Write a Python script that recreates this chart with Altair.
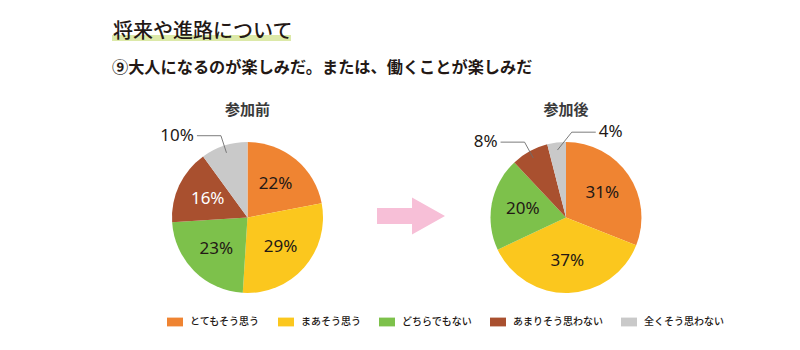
import altair as alt
import pandas as pd

TITLE = "将来や進路について"
SUBTITLE = "⑨大人になるのが楽しみだ。または、働くことが楽しみだ"
CATEGORIES = ["とてもそう思う", "まあそう思う", "どちらでもない", "あまりそう思わない", "全くそう思わない"]
PIE_TITLES = ["参加前", "参加後"]
BEFORE = [22, 29, 23, 16, 10]
AFTER = [31, 37, 20, 8, 4]

# ---- style ----
COLORS = ["#EF8432", "#FBC71E", "#7DC14B", "#A9502F", "#C9C9C9"]
TEXT = "#231815"
FONT_JP = "Noto Sans CJK JP"
FONT_NUM = "Noto Sans"
OUTSIDE = {
    "参加前": {"全くそう思わない": "left"},
    "参加後": {"あまりそう思わない": "left", "全くそう思わない": "right"},
}
WHITE_LABEL = "あまりそう思わない"
R_PIE = 75.5
R_IN = 44
R1, RE, LEADER = 68, 86, 24

RECT_SYMBOL = "M-1,-0.55 L1,-0.55 L1,0.55 L-1,0.55 Z"
legend = alt.Legend(
    title=None, orient="none", legendX=167, legendY=314, direction="horizontal",
    symbolType=RECT_SYMBOL, symbolSize=256, symbolStrokeWidth=0,
    labelFont=FONT_JP, labelFontSize=10, labelFontWeight=500, labelColor=TEXT, labelOffset=7,
    columnPadding=18,
)
color_enc = alt.Color("category:N", scale=alt.Scale(domain=CATEGORIES, range=COLORS), legend=legend)


def side_expr(name):
    expr = "'in'"
    for cat, side in OUTSIDE[name].items():
        expr = f"datum.category == '{cat}' ? '{side}' : ({expr})"
    return expr


def pie_layers(name, values, cx, cy):
    df = pd.DataFrame({"category": CATEGORIES, "value": values, "idx": list(range(len(values)))})
    base = alt.Chart(df).transform_calculate(side=side_expr(name)).encode(
        theta=alt.Theta("value:Q", stack=True),
        order=alt.Order("idx:Q"),
        x=alt.value(cx), y=alt.value(cy),
    )
    arc = base.mark_arc(outerRadius=R_PIE).encode(color=color_enc)
    inner = base.transform_calculate(
        lab="datum.side == 'in' ? datum.value + '%' : ''"
    ).mark_text(radius=R_IN, font=FONT_NUM, fontSize=17, baseline="middle", align="center").encode(
        text="lab:N",
        color=alt.condition(f"datum.category == '{WHITE_LABEL}'", alt.value("white"), alt.value(TEXT)),
    )
    outer = (
        alt.Chart(df)
        .transform_calculate(side=side_expr(name))
        .transform_joinaggregate(total="sum(value)")
        .transform_window(cum="sum(value)", sort=[alt.SortField("idx")], frame=[None, 0])
        .transform_calculate(mid="(datum.cum - datum.value/2)/datum.total*2*PI")
        .transform_calculate(x1=f"{cx} + {R1}*sin(datum.mid)")
        .transform_calculate(y1=f"{cy} - {R1}*cos(datum.mid)")
        .transform_calculate(ey=f"{cy} - {RE}*cos(datum.mid)")
        .transform_calculate(
            ex=f"datum.side == 'left' ? {cx} + {RE}*sin(datum.mid) : datum.x1 + (datum.y1 - datum.ey)*0.8"
        )
        .transform_calculate(x3=f"datum.side == 'left' ? datum.ex - {LEADER} : datum.ex + {LEADER}")
        .transform_calculate(tx="datum.side == 'left' ? datum.x3 - 3 : datum.x3 + 3")
        .transform_calculate(lab="datum.value + '%'")
        .transform_filter("datum.side != 'in'")
    )
    seg1 = outer.mark_rule(color="#6d6d6d", strokeWidth=0.9).encode(
        x=alt.X("x1:Q", scale=None, axis=None), y=alt.Y("y1:Q", scale=None, axis=None),
        x2="ex:Q", y2="ey:Q",
    )
    seg2 = outer.mark_rule(color="#6d6d6d", strokeWidth=0.9).encode(
        x=alt.X("ex:Q", scale=None, axis=None), y=alt.Y("ey:Q", scale=None, axis=None),
        x2="x3:Q", y2="ey:Q",
    )
    lt = outer.transform_filter("datum.side == 'left'").mark_text(
        align="right", baseline="middle", font=FONT_NUM, fontSize=17, color=TEXT
    ).encode(x=alt.X("tx:Q", scale=None, axis=None), y=alt.Y("ey:Q", scale=None, axis=None), text="lab:N")
    rt = outer.transform_filter("datum.side == 'right'").mark_text(
        align="left", baseline="middle", font=FONT_NUM, fontSize=17, color=TEXT
    ).encode(x=alt.X("tx:Q", scale=None, axis=None), y=alt.Y("ey:Q", scale=None, axis=None), text="lab:N")
    title = alt.Chart(pd.DataFrame({"t": [name]})).mark_text(
        font=FONT_JP, fontSize=15, fontWeight="bold", color="#3a3a3a", align="center", baseline="alphabetic"
    ).encode(text="t:N", x=alt.value(cx), y=alt.value(115))
    return [arc, inner, seg1, seg2, lt, rt, title]


one = pd.DataFrame({"t": [TITLE]})
highlight = alt.Chart(one).mark_rect(color="#DCE9A8").encode(
    x=alt.value(112), x2=alt.value(291), y=alt.value(35), y2=alt.value(41)
)
title = alt.Chart(one).mark_text(
    font=FONT_JP, fontSize=20, fontWeight=500, color=TEXT, align="left", baseline="alphabetic"
).encode(text="t:N", x=alt.value(113), y=alt.value(38))
subtitle = alt.Chart(pd.DataFrame({"t": [SUBTITLE]})).mark_text(
    font=FONT_JP, fontSize=16.2, fontWeight="bold", color=TEXT, align="left", baseline="alphabetic"
).encode(text="t:N", x=alt.value(112), y=alt.value(73))

ARROW = "M-1,-0.235 L0.03,-0.235 L0.03,-0.545 L1,0 L0.03,0.545 L0.03,0.235 L-1,0.235 Z"
arrow = alt.Chart(one).mark_point(
    shape=ARROW, size=4624, filled=True, color="#F7BFD7", opacity=1, strokeWidth=0
).encode(x=alt.value(411), y=alt.value(216))

layers = [highlight, title, subtitle, arrow]
layers += pie_layers(PIE_TITLES[0], BEFORE, 247.5, 217.5)
layers += pie_layers(PIE_TITLES[1], AFTER, 566, 217.5)

chart = alt.layer(*layers).properties(
    width=800, height=350, autosize=alt.AutoSizeParams(type="none"), padding=0,
    background="white",
).configure_view(strokeWidth=0)

chart.save("out.html", embed_options={"renderer": "svg", "actions": False})
